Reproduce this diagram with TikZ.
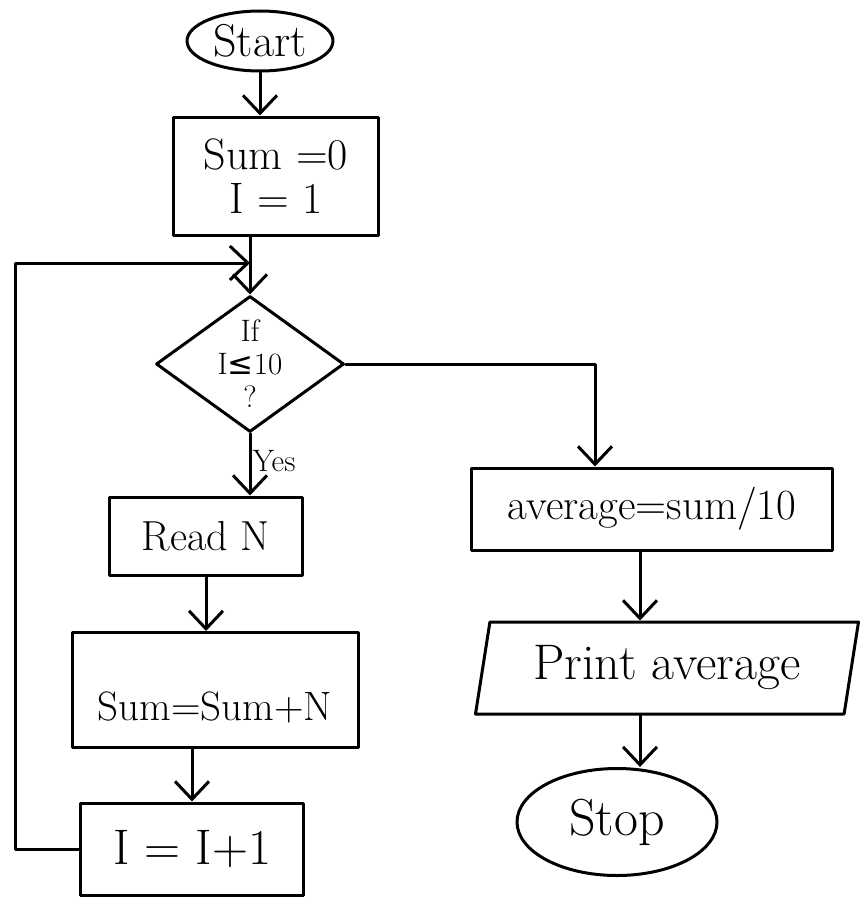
\documentclass[tikz,border=0pt]{standalone}
\usepackage{fontspec}
\newfontfamily\symfont{DejaVu Sans}
\usetikzlibrary{shapes.geometric,arrows.meta,calc}
\newcommand{\fsz}[1]{\fontsize{#1}{#1}\selectfont}
\begin{document}
\begin{tikzpicture}[x=1pt,y=-1pt,
  line width=3pt, line join=round, line cap=round,
  every node/.style={font=\fsz{40}},
  termbox/.style={draw, ellipse, inner sep=0pt},
  procbox/.style={draw, rectangle, inner sep=0pt, align=center},
  decbox/.style={draw, diamond, inner sep=0pt},
  iobox/.style={draw, trapezium, trapezium left angle=72, trapezium right angle=108, trapezium stretches body, inner sep=0pt},
  dectext/.style={align=center, inner sep=0pt, font=\fontsize{31}{33}\selectfont},
  lbl/.style={font=\fsz{31}},
  arr/.style={draw, -{Straight Barb[length=18pt,width=34pt]}}
]
\useasboundingbox (0,0) rectangle (861,899);

\node[termbox, minimum width=146pt, minimum height=60pt, font=\fsz{46}] (start) at (260,41) {Start};
\node[procbox, minimum width=205pt, minimum height=118pt, font=\fontsize{44}{44}\selectfont] (init) at (276,176) {Sum =0\\I = 1};
\node[decbox, minimum width=188pt, minimum height=136pt] (dec) at (250,364) {};
\node[dectext] (dect) at (dec.center) {If\\I{\symfont ≤}10\\?};
\node[lbl] (yes) at (274,461) {Yes};
\node[procbox, minimum width=193pt, minimum height=78pt, font=\fsz{42}] (readn) at (206,536) {Read N};
\node[procbox, minimum width=286pt, text height=88pt, text depth=27pt, font=\fsz{41}] (sum) at (215,690) {Sum=Sum+N};
\node[procbox, minimum width=223pt, minimum height=92pt, font=\fsz{50}] (incr) at (192,849) {I = I+1};
\node[procbox, minimum width=361pt, minimum height=82pt, font=\fsz{43}] (avg) at (652,509) {average=sum/10};
\node[iobox, minimum width=383pt, minimum height=92pt, font=\fsz{50}] (print) at (667,668) {Print average};
\node[termbox, minimum width=200pt, minimum height=107pt, font=\fsz{52}] (stop) at (617,822) {Stop};

\coordinate (loopx) at (15,263);
\coordinate (rx) at (595,0);
\coordinate (cx) at (640,0);

\draw[arr] (start) -- (start |- init.north);
\draw[arr] (init.south -| dec.north) -- (dec.north);
\draw[arr] (incr.west) -- (incr.west -| loopx) -- (loopx) -- (loopx -| dec.north);
\draw[arr] (dec.south) -- (dec.south |- readn.north);
\draw[arr] (dec.east) -| (avg.north -| rx);
\draw[arr] (readn.south) -- (readn.south |- sum.north);
\draw[arr] (sum.south -| incr.north) -- (incr.north);
\draw[arr] (avg.south -| cx) -- (print.north -| cx);
\draw[arr] (print.south -| cx) -- (stop.north -| cx);
\end{tikzpicture}
\end{document}
